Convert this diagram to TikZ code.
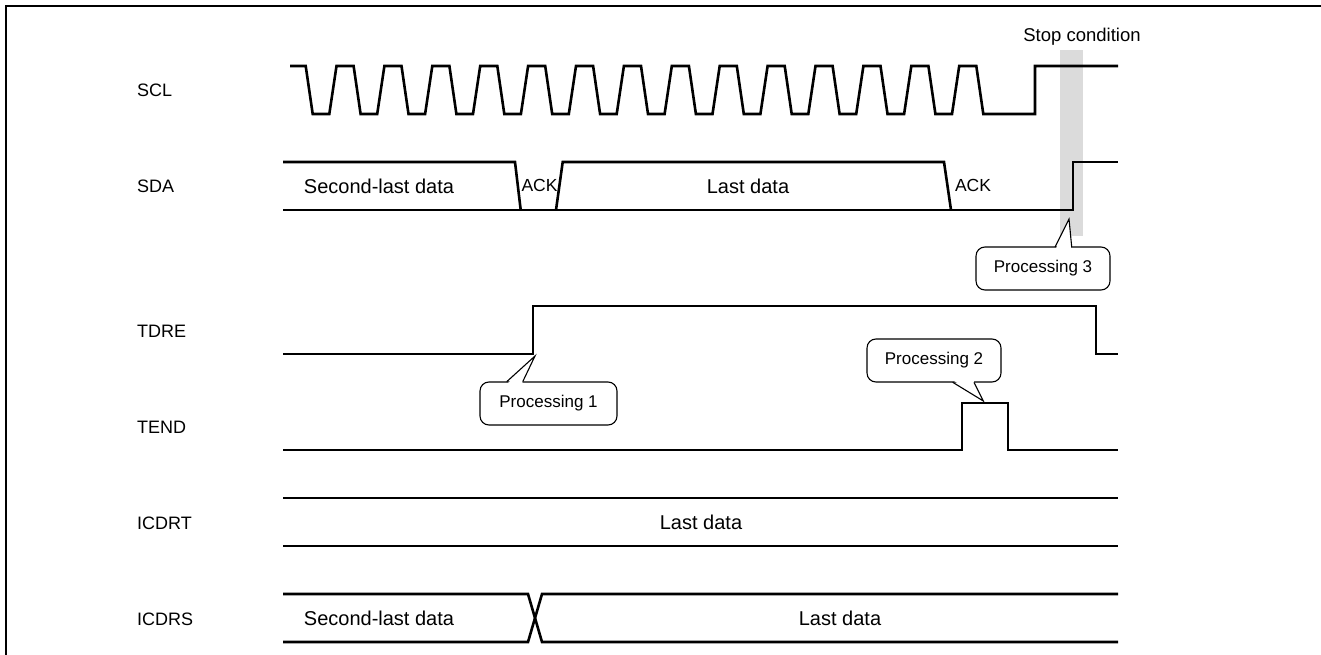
\documentclass[tikz,border=0pt]{standalone}
\usepackage{fontspec}
\setmainfont{Liberation Sans}
\begin{document}
\begin{tikzpicture}[x=1pt,y=-1pt,
  sig/.style={line width=2.6pt,line join=miter},
  lbl/.style={anchor=west,font=\fontsize{18}{20}\selectfont,inner sep=0pt},
  dat/.style={font=\fontsize{20}{22}\selectfont,inner sep=0pt},
  ack/.style={font=\fontsize{17.5}{19}\selectfont,inner sep=0pt},
  callout/.style={draw,line width=1.1pt,rounded corners=9pt,fill=white,
    minimum width=134pt,minimum height=43pt,inner sep=0pt,
    font=\fontsize{17}{19}\selectfont},
  ptr/.style={line width=1.1pt}]
\useasboundingbox (0,0) rectangle (1321,655);

% outer frame (top and left edges)
\draw[line width=2.2pt] (6,655) -- (6,6) -- (1321,6);

% stop-condition band
\fill[black!14] (1060,50) rectangle (1083,236);
\node[dat,font=\fontsize{18.5}{20}\selectfont] (stop) at (1082,37) {Stop condition};

% row labels
\node[lbl] (lscl)   at (137,90)  {SCL};
\node[lbl] (lsda)   at (137,186) {SDA};
\node[lbl] (ltdre)  at (137,331) {TDRE};
\node[lbl] (ltend)  at (137,427) {TEND};
\node[lbl] (licdrt) at (137,523) {ICDRT};
\node[lbl] (licdrs) at (137,619) {ICDRS};

% SCL clock
\draw[sig] (290,66)
  \foreach \k in {0,...,13} {
    -- ({305.7+\k*47.9},66) -- ({312.7+\k*47.9},114)
    -- ({329.3+\k*47.9},114) -- ({336.5+\k*47.9},66) }
  -- (976.3,66) -- (983.3,114) -- (1035,114) -- (1035,66) -- (1118,66);

% SDA
\draw[sig] (283,210) -- (1073,210) -- (1073,162) -- (1118,162);
\draw[sig] (283,162) -- (515,162) -- (520.7,210);
\draw[sig] (556,210) -- (562.7,162) -- (944,162) -- (951,210);
\node[dat] (sda1) at (379,186) {Second-last data};
\node[ack] (ack1) at (539.5,185) {ACK};
\node[dat] (sda2) at (748,186) {Last data};
\node[ack] (ack2) at (973,185) {ACK};

% TDRE
\draw[sig] (283,354) -- (533,354) -- (533,306) -- (1096,306) -- (1096,354) -- (1118,354);
% TEND
\draw[sig] (283,450) -- (962,450) -- (962,403) -- (1008,403) -- (1008,450) -- (1118,450);

% ICDRT
\draw[sig] (283,498) -- (1118,498);
\draw[sig] (283,546) -- (1118,546);
\node[dat] (icdrt) at (701,522) {Last data};

% ICDRS
\draw[sig] (283,594) -- (528,594) -- (542,642) -- (1118,642);
\draw[sig] (283,642) -- (528,642) -- (542,594) -- (1118,594);
\node[dat] (icdrs1) at (379,618) {Second-last data};
\node[dat] (icdrs2) at (840,618) {Last data};

% callouts
\node[callout,minimum width=137pt] (p1) at (548.5,403.5) {Processing 1};
\coordinate (t1) at (535,356);
\fill[white] (507.5,383.5) -- (t1) -- (522,383.5) -- cycle;
\draw[ptr] (506.7,381.7) -- (t1) -- (522.7,381.7);

\node[callout] (p2) at (934,360.5) {Processing 2};
\coordinate (t2) at (983.3,401);
\fill[white] (953.5,380.5) -- (t2) -- (973.5,380.5) -- cycle;
\draw[ptr] (952.7,382.3) -- (t2) -- (974,382.3);

\node[callout] (p3) at (1043,268.5) {Processing 3};
\coordinate (t3) at (1069,219);
\fill[white] (1056,248.5) -- (t3) -- (1071,248.5) -- cycle;
\draw[ptr] (1055,247) -- (t3) -- (1071.7,247);
\end{tikzpicture}
\end{document}
